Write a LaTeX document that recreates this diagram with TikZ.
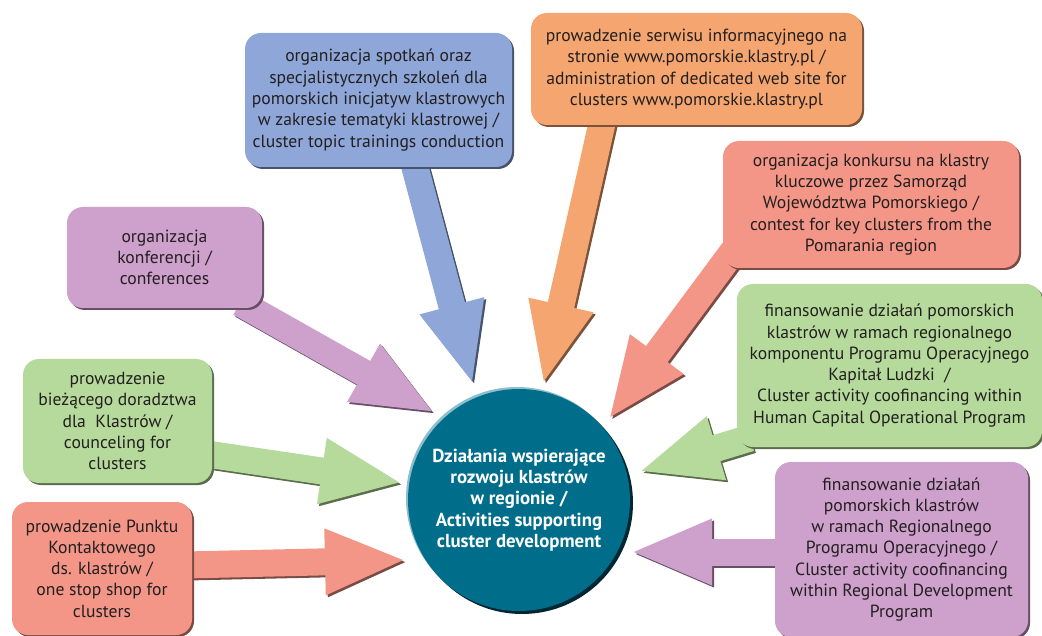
\documentclass[tikz,border=0pt]{standalone}
\usepackage{fontspec}
\setmainfont{PT Sans}
\usetikzlibrary{arrows.meta,calc,shadows}
\definecolor{cblue}{RGB}{142,166,216}
\definecolor{corange}{RGB}{245,166,112}
\definecolor{cred}{RGB}{243,150,136}
\definecolor{cpurple}{RGB}{206,160,204}
\definecolor{cgreen}{RGB}{182,218,155}
\definecolor{cteal}{RGB}{0,110,139}
\definecolor{ctext}{RGB}{35,31,32}
\newcommand{\bigarr}[3]{%
  \draw[arrbase, draw=#1!50!black, transform canvas={shift={(2pt,-2pt)}}] #2 -- #3;
  \draw[arrbase, draw=#1] #2 -- #3;}
\begin{document}
\begin{tikzpicture}[x=1pt,y=-1pt,
  box/.style={rounded corners=16pt, inner sep=0pt, align=center, text=ctext,
    font=\fontsize{17.6}{21.3}\selectfont},
  shad/.style={drop shadow={shadow xshift=2pt, shadow yshift=-2pt, fill=#1!50!black, opacity=1}},
  arrbase/.style={line width=27pt, -{Triangle[length=82pt,width=60pt]}},
  hubstyle/.style={circle, minimum size=222pt, inner sep=0pt, fill=cteal, text=white,
    align=center, font=\fontsize{18.8}{21.3}\selectfont\bfseries}
]
\useasboundingbox (0,0) rectangle (1042,636);

% arrow tips
\coordinate (hB) at (473,385);
\coordinate (hO) at (543,385);
\coordinate (hR) at (608,420);
\coordinate (hPL) at (435,413);
\coordinate (hGL) at (403,483);
\coordinate (hRL) at (407,560);
\coordinate (hGR) at (638,472);
\coordinate (hPR) at (630,552);

% box centres
\path (378.5,100) coordinate (cB) (696.5,69) coordinate (cO) (871,204.5) coordinate (cR)
      (164.5,257.5) coordinate (cPL) (117.5,421) coordinate (cGL) (102,568.5) coordinate (cRL)
      (889.5,365.5) coordinate (cGR) (901.5,549.5) coordinate (cPR);

% arrows
\bigarr{cblue}{($(cB)+(34.5,60)$)}{(hB)}
\bigarr{corange}{($(cO)+(-91.5,41)$)}{(hO)}
\bigarr{cred}{($(cR)+(-131,37.5)$)}{(hR)}
\bigarr{cpurple}{($(cPL)+(75.5,45.5)$)}{(hPL)}
\bigarr{cgreen}{($(cGL)+(82.5,32)$)}{(hGL)}
\bigarr{cred}{($(cRL)+(83,-3.5)$)}{(hRL)}
\bigarr{cgreen}{($(cGR)+(-139.5,72.5)$)}{(hGR)}
\bigarr{cpurple}{($(cPR)+(-116.5,2.5)$)}{(hPR)}

% boxes
\node[box, fill=cblue, shad=cblue, minimum width=267pt, minimum height=134pt] (blue) at (cB)
 {organizacja spotkań oraz\\specjalistycznych szkoleń dla\\pomorskich inicjatyw klastrowych\\w zakresie tematyki klastrowej /\\cluster topic trainings conduction};
\node[box, fill=corange, shad=corange, minimum width=331pt, minimum height=112pt] (orange) at (cO)
 {prowadzenie serwisu informacyjnego na\\stronie www.pomorskie.klastry.pl /\\administration of dedicated web site for\\clusters www.pomorskie.klastry.pl};
\node[box, fill=cred, shad=cred, minimum width=296pt, minimum height=127pt] (redtr) at (cR)
 {organizacja konkursu na klastry\\kluczowe przez Samorząd\\Województwa Pomorskiego /\\contest for key clusters from the\\Pomarania region};
\node[box, fill=cpurple, shad=cpurple, minimum width=195pt, minimum height=101pt] (purpl) at (cPL)
 {organizacja\\konferencji /\\conferences};
\node[box, fill=cgreen, shad=cgreen, minimum width=305pt, minimum height=163pt] (greenr) at (cGR)
 {finansowanie działań pomorskich\\klastrów w ramach regionalnego\\komponentu Programu Operacyjnego\\Kapitał Ludzki~ /\\Cluster activity coofinancing within\\Human Capital Operational Program};
\node[box, fill=cgreen, shad=cgreen, minimum width=189pt, minimum height=124pt] (greenl) at (cGL)
 {prowadzenie\\bieżącego doradztwa\\dla~ Klastrów /\\counceling for\\clusters};
\node[box, fill=cred, shad=cred, minimum width=180pt, minimum height=133pt] (redl) at (cRL)
 {prowadzenie Punktu\\Kontaktowego\\ds. klastrów /\\one stop shop for\\clusters};
\node[box, fill=cpurple, shad=cpurple, minimum width=253pt, minimum height=175pt] (purpr) at (cPR)
 {finansowanie działań\\pomorskich klastrów\\w ramach Regionalnego\\Programu Operacyjnego /\\Cluster activity coofinancing\\within Regional Development\\Program};

% hub
\fill[cteal!45!white] (517,498) circle (111pt);
\node[hubstyle, drop shadow={shadow xshift=3pt, shadow yshift=-3pt, fill=cteal!35!black, opacity=1}] (hub) at (519,500)
 {Działania wspierające\\rozwoju klastrów\\w regionie /\\Activities supporting\\cluster development};
\end{tikzpicture}
\end{document}
